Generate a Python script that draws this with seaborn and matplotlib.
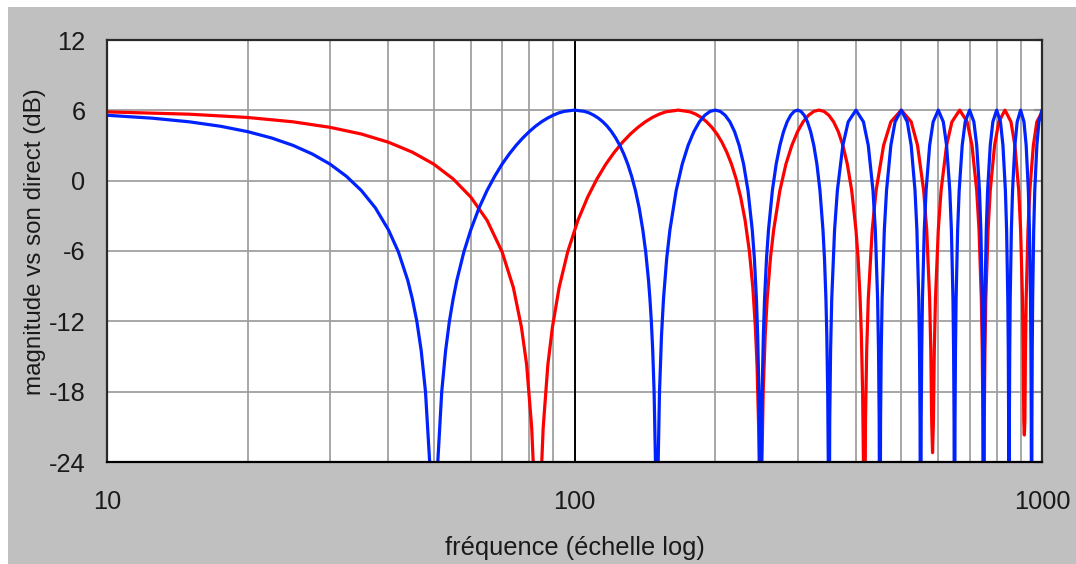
import matplotlib
matplotlib.use("Agg")
import matplotlib.pyplot as plt
from matplotlib.patches import Rectangle
from matplotlib.ticker import FixedLocator, NullFormatter
import seaborn as sns
import pandas as pd

# ---------------- data ----------------
blue_freq = [
    10, 12.5, 15, 17.5, 20, 22.5, 25, 27.5, 30, 32.5, 35, 37.5, 40, 42, 44, 45, 46, 47, 48, 49, 50,
    51, 52, 53, 54, 55, 56, 58, 60, 62.5, 65, 67.5, 70, 72.5, 75, 77.5, 80, 82.5, 85, 87.5, 90, 92.5, 95, 100,
    105, 107.5, 110, 112.5, 115, 117.5, 120, 122.5, 125, 127.5, 130, 132.5, 135, 137.5, 140, 142, 144, 145, 146, 147, 148, 149, 150,
    151, 152, 153.5, 155, 157.5, 160, 165, 170, 175, 180, 185, 190, 195, 200,
    205, 210, 215, 220, 225, 230, 235, 240, 242.5, 245, 246.5, 248, 249, 250,
    251, 252, 253.5, 255, 257.5, 260, 265, 270, 275, 280, 285, 290, 295, 300,
    305, 310, 315, 320, 325, 330, 335, 340, 342.5, 345, 346.5, 348, 349, 350,
    351.5, 353, 355, 360, 365, 375, 385, 400, 415, 425, 435, 440, 445, 447, 448.5, 450,
    451.5, 453, 455, 460, 465, 475, 485, 500, 515, 525, 535, 540, 545, 547, 548.5, 550,
    551.5, 553, 555, 560, 565, 575, 585, 600, 615, 625, 635, 640, 645, 647, 648.5, 650,
    651.5, 653, 655, 660, 665, 675, 685, 700, 715, 725, 735, 740, 745, 747, 748.5, 750,
    751.5, 753, 755, 760, 765, 775, 785, 800, 815, 825, 835, 840, 845, 847, 848.5, 850,
    851.5, 853, 855, 860, 865, 875, 885, 900, 915, 925, 935, 940, 945, 947, 948.5, 950,
    951.5, 953, 955, 960, 965, 975, 985, 1000,
]
blue_db = [
    5.58, 5.33, 5.02, 4.64, 4.18, 3.64, 3.01, 2.27, 1.41, 0.38, -0.84, -2.32, -4.20, -6.07, -8.52, -10.1, -12.0, -14.5, -18.0, -24.0, -40,
    -24.0, -18.0, -14.5, -12.0, -10.1, -8.52, -6.07, -4.20, -2.32, -0.84, 0.38, 1.41, 2.27, 3.01, 3.64, 4.18, 4.64, 5.02, 5.33, 5.58, 5.78, 5.91, 6.02,
    5.91, 5.78, 5.58, 5.33, 5.02, 4.64, 4.18, 3.64, 3.01, 2.27, 1.41, 0.38, -0.84, -2.32, -4.20, -6.07, -8.52, -10.1, -12.0, -14.5, -18.0, -24.0, -40,
    -24.0, -18.0, -13.2, -10.1, -6.6, -4.2, -0.84, 1.41, 3.01, 4.18, 5.02, 5.58, 5.91, 6.02,
    5.91, 5.58, 5.02, 4.18, 3.01, 1.41, -0.84, -4.2, -6.6, -10.1, -13.2, -18.0, -24.0, -40,
    -24.0, -18.0, -13.2, -10.1, -6.6, -4.2, -0.84, 1.41, 3.01, 4.18, 5.02, 5.58, 5.91, 6.02,
    5.91, 5.58, 5.02, 4.18, 3.01, 1.41, -0.84, -4.2, -6.6, -10.1, -13.2, -18.0, -24.0, -40,
    -20.5, -14.5, -10.1, -4.2, -0.84, 3.01, 5.02, 6.02, 5.02, 3.01, -0.84, -4.2, -10.1, -14.5, -20.5, -40,
    -20.5, -14.5, -10.1, -4.2, -0.84, 3.01, 5.02, 6.02, 5.02, 3.01, -0.84, -4.2, -10.1, -14.5, -20.5, -40,
    -20.5, -14.5, -10.1, -4.2, -0.84, 3.01, 5.02, 6.02, 5.02, 3.01, -0.84, -4.2, -10.1, -14.5, -20.5, -40,
    -20.5, -14.5, -10.1, -4.2, -0.84, 3.01, 5.02, 6.02, 5.02, 3.01, -0.84, -4.2, -10.1, -14.5, -20.5, -40,
    -20.5, -14.5, -10.1, -4.2, -0.84, 3.01, 5.02, 6.02, 5.02, 3.01, -0.84, -4.2, -10.1, -14.5, -20.5, -40,
    -20.5, -14.5, -10.1, -4.2, -0.84, 3.01, 5.02, 6.02, 5.02, 3.01, -0.84, -4.2, -10.1, -14.5, -20.5, -40,
    -20.5, -14.5, -10.1, -4.2, -0.84, 3.01, 5.02, 6.02,
]

red_freq = [
    10, 15, 20, 25, 30, 35, 40, 45, 50, 55, 60, 65, 70, 74, 77, 79, 81, 82, 83.3,
    84.7, 85.7, 87.7, 89.7, 92.7, 96.7, 101.7, 106.7, 111.7, 116.7, 121.7, 126.7, 131.7, 136.7, 141.7, 146.7, 151.7, 156.7, 166.7,
    176.7, 181.7, 186.7, 191.7, 196.7, 201.7, 206.7, 211.7, 216.7, 221.7, 226.7, 231.7, 236.7, 240.7, 243.7, 245.7, 247.7, 248.7, 250,
    251.7, 253.3, 255.8, 258.3, 262.5, 266.7, 275, 283.3, 291.7, 300, 308.3, 316.7, 325, 333.3,
    341.7, 350, 358.3, 366.7, 375, 383.3, 391.7, 400, 404.2, 408.3, 410.8, 413.3, 415, 416.7,
    419.2, 421.7, 425, 433.3, 441.7, 458.3, 475, 500,
    525, 541.7, 558.3, 566.7, 575, 578.3, 580.8, 583.3,
    585.8, 588.3, 591.7, 600, 608.3, 625, 641.7, 666.7,
    691.7, 708.3, 725, 733.3, 741.7, 745, 747.5, 750,
    752.5, 755, 758.3, 766.7, 775, 791.7, 808.3, 833.3,
    858.3, 875, 891.7, 900, 908.3, 911.7, 914.2, 916.7,
    919.2, 921.7, 925, 933.3, 941.7, 958.3, 975, 1000,
]
red_db = [
    5.87, 5.67, 5.39, 5.02, 4.55, 3.98, 3.28, 2.43, 1.41, 0.15, -1.40, -3.38, -6.07, -9.12, -12.5, -15.7, -21.1, -26.0, -40,
    -26.0, -21.1, -15.7, -12.5, -9.12, -6.07, -3.38, -1.40, 0.15, 1.41, 2.43, 3.28, 3.98, 4.55, 5.02, 5.39, 5.67, 5.87, 6.02,
    5.87, 5.67, 5.39, 5.02, 4.55, 3.98, 3.28, 2.43, 1.41, 0.15, -1.40, -3.38, -6.07, -9.12, -12.5, -15.7, -21.1, -26.0, -40,
    -24.0, -18.0, -13.2, -10.1, -6.6, -4.2, -0.84, 1.41, 3.01, 4.18, 5.02, 5.58, 5.91, 6.02,
    5.91, 5.58, 5.02, 4.18, 3.01, 1.41, -0.84, -4.2, -6.6, -10.1, -13.2, -18.0, -24.0, -40,
    -20.5, -14.5, -10.1, -4.2, -0.84, 3.01, 5.02, 6.02,
    5.02, 3.01, -0.84, -4.2, -10.1, -14.5, -20.5, -23.2,
    -20.5, -14.5, -10.1, -4.2, -0.84, 3.01, 5.02, 6.02,
    5.02, 3.01, -0.84, -4.2, -10.1, -14.5, -20.5, -40,
    -20.5, -14.5, -10.1, -4.2, -0.84, 3.01, 5.02, 6.02,
    5.02, 3.01, -0.84, -4.2, -10.1, -14.5, -20.5, -21.7,
    -20.5, -14.5, -10.1, -4.2, -0.84, 3.01, 5.02, 5.85,
]

y_ticks = [-24, -18, -12, -6, 0, 6, 12]
x_major = [10, 100, 1000]
x_minor = [20, 30, 40, 50, 60, 70, 80, 90, 200, 300, 400, 500, 600, 700, 800, 900]
x_label = "fréquence (échelle log)"
y_label = "magnitude vs son direct (dB)"

# ---------------- styling ----------------
sns.set_style("white")
plt.rcParams["font.family"] = ["Liberation Sans", "DejaVu Sans"]
FS = 18.3
GRAY_BG = "#c0c0c0"
GRID = "#a0a0a0"
EDGE = "#2a2a2a"

W, H = 1076, 564
fig = plt.figure(figsize=(W / 100, H / 100), dpi=100, facecolor=GRAY_BG)
# white bevel strips on top and left
fig.patches.append(Rectangle((0, 1 - 7 / H), 1, 7 / H, transform=fig.transFigure,
                             facecolor="white", edgecolor="none", zorder=-10))
fig.patches.append(Rectangle((0, 0), 8 / W, 1, transform=fig.transFigure,
                             facecolor="white", edgecolor="none", zorder=-10))

left, right, top, bottom = 107, 1042, 40, 462
ax = fig.add_axes([left / W, (H - bottom) / H, (right - left) / W, (bottom - top) / H])
ax.set_facecolor("white")

df_red = pd.DataFrame({"f": red_freq, "db": red_db})
df_blue = pd.DataFrame({"f": blue_freq, "db": blue_db})

ax.set_xscale("log")
ax.set_xlim(10, 1000)
ax.set_ylim(-24, 12)

# grid
for v in y_ticks[1:-1]:
    ax.axhline(v, color=GRID, lw=1.3, zorder=1)
for v in x_minor:
    ax.axvline(v, color=GRID, lw=1.3, zorder=1)
ax.axvline(100, color="black", lw=1.4, zorder=1.5)

sns.lineplot(data=df_red, x="f", y="db", ax=ax, color="#ff0000", lw=2.3,
             sort=False, estimator=None, zorder=3)
sns.lineplot(data=df_blue, x="f", y="db", ax=ax, color="#0022ff", lw=2.3,
             sort=False, estimator=None, zorder=4)

ax.xaxis.set_major_locator(FixedLocator(x_major))
ax.xaxis.set_minor_locator(FixedLocator(x_minor))
ax.xaxis.set_minor_formatter(NullFormatter())
ax.set_xticklabels([str(v) for v in x_major])
ax.set_yticks(y_ticks)
ax.set_yticklabels([str(v) for v in y_ticks])

ax.tick_params(axis="x", which="major", direction="out", length=7.5, width=1.3,
               color="black", pad=13, labelsize=FS, labelcolor="#1a1a1a")
ax.tick_params(axis="x", which="minor", length=0)
ax.tick_params(axis="y", which="major", left=False, right=True, direction="in",
               length=6, width=1.5, color="black", pad=15.5, labelsize=FS,
               labelcolor="#1a1a1a")

for s in ax.spines.values():
    s.set_visible(True)
    s.set_color(EDGE)
    s.set_linewidth(1.6)
    s.set_zorder(6)
ax.spines["bottom"].set_color("black")

ax.set_xlabel(x_label, fontsize=FS, color="#1a1a1a")
ax.set_ylabel(y_label, fontsize=17.4, color="#1a1a1a")
ax.xaxis.set_label_coords(0.5, -(536 - bottom) / (bottom - top))
ax.yaxis.set_label_coords(-(107 - 46) / (right - left), (bottom - 242) / (bottom - top))

fig.savefig("out.png", dpi=100, facecolor=GRAY_BG)
